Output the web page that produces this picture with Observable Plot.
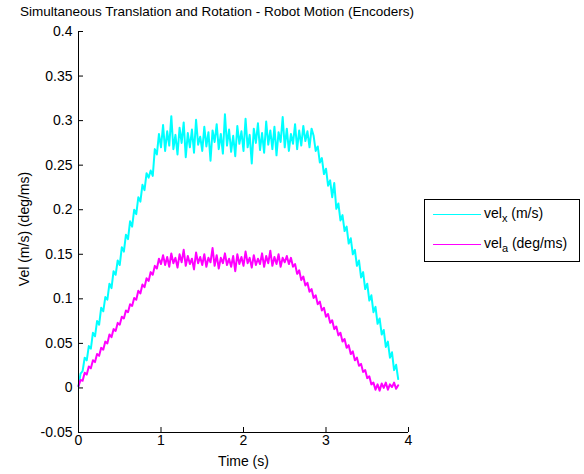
<!DOCTYPE html>
<html>
<head>
<meta charset="utf-8">
<script src="https://cdn.jsdelivr.net/npm/d3@7"></script>
<script src="https://cdn.jsdelivr.net/npm/@observablehq/plot@0.6"></script>
<style>
  body { margin: 0; background: #fff; }
  #wrap { position: relative; width: 584px; height: 474px; font-family: "Liberation Sans", Arial, sans-serif; color: #000; }
  #title { height: 22px; line-height: 24px; font-size: 13.5px; padding-left: 20px; white-space: nowrap; }
  #legend { position: absolute; left: 424px; top: 199px; width: 154px; height: 61px; border: 1px solid #000; background: #fff; font-size: 14px; }
  .lg-line { position: absolute; left: 8px; width: 48px; height: 0; border-top: 1px solid; }
  .lg-text { position: absolute; left: 59px; line-height: 16px; white-space: nowrap; }
  .lg-text sub { font-size: 11px; vertical-align: -4px; line-height: 0; }
</style>
</head>
<body>
<div id="wrap">
  <div id="title">Simultaneous Translation and Rotation - Robot Motion (Encoders)</div>
  <div id="chart"></div>
  <div id="legend">
    <div class="lg-line" style="top:14px;border-color:#00ffff"></div>
    <div class="lg-text" style="top:5px">vel<sub>x</sub> (m/s)</div>
    <div class="lg-line" style="top:44px;border-color:#ff00ff"></div>
    <div class="lg-text" style="top:35px">vel<sub>a</sub> (deg/ms)</div>
  </div>
</div>
<script>
// sample step of the recorded signals (s)
const timeStep = 0.025;

// vel_x (m/s)
const velX = [
  0.002, 0.016, 0.019, 0.034, 0.031, 0.047, 0.044, 0.062, 0.058, 0.075,
  0.071, 0.090, 0.086, 0.102, 0.099, 0.117, 0.112, 0.131, 0.127, 0.143,
  0.138, 0.158, 0.153, 0.172, 0.167, 0.187, 0.181, 0.200, 0.195, 0.214,
  0.209, 0.228, 0.222, 0.241, 0.236, 0.244, 0.238, 0.268, 0.262, 0.285,
  0.270,
  0.295, 0.266, 0.288, 0.272, 0.305, 0.268, 0.284, 0.262, 0.292, 0.275,
  0.298, 0.259, 0.286, 0.270, 0.290, 0.264, 0.301, 0.273, 0.282, 0.266,
  0.293, 0.271, 0.287, 0.255, 0.289, 0.276, 0.296, 0.268, 0.285, 0.263,
  0.307, 0.272, 0.290, 0.265, 0.283, 0.260, 0.294, 0.274, 0.288, 0.266,
  0.302, 0.270, 0.284, 0.252, 0.291, 0.275, 0.297, 0.267, 0.286, 0.264,
  0.299, 0.273, 0.289, 0.268, 0.293, 0.261, 0.287, 0.276, 0.304, 0.270,
  0.291, 0.266, 0.285, 0.274, 0.296, 0.268, 0.289, 0.272, 0.294, 0.277,
  0.288, 0.270, 0.291,
  0.283, 0.266, 0.271, 0.253, 0.258, 0.240, 0.246, 0.227, 0.233, 0.214,
  0.230, 0.201, 0.207, 0.188, 0.194, 0.176, 0.181, 0.162, 0.168, 0.150,
  0.155, 0.137, 0.143, 0.124, 0.130, 0.111, 0.117, 0.098, 0.104, 0.085,
  0.091, 0.072, 0.078, 0.060, 0.065, 0.046, 0.052, 0.034, 0.040, 0.020,
  0.026, 0.010
];

// vel_a (deg/ms)
const velA = [
  0.002, 0.009, 0.008, 0.017, 0.015, 0.024, 0.022, 0.031, 0.029, 0.038,
  0.036, 0.045, 0.043, 0.052, 0.050, 0.060, 0.057, 0.066, 0.064, 0.073,
  0.071, 0.080, 0.078, 0.087, 0.085, 0.094, 0.092, 0.101, 0.099, 0.109,
  0.106, 0.116, 0.113, 0.123, 0.120, 0.130, 0.127, 0.137, 0.134, 0.145,
  0.139,
  0.149, 0.138, 0.147, 0.136, 0.151, 0.140, 0.146, 0.135, 0.150, 0.141,
  0.155, 0.137, 0.148, 0.139, 0.145, 0.133, 0.152, 0.140, 0.147, 0.138,
  0.150, 0.136, 0.146, 0.141, 0.157, 0.137, 0.149, 0.134, 0.146, 0.140,
  0.151, 0.138, 0.145, 0.136, 0.148, 0.131, 0.150, 0.139, 0.147, 0.137,
  0.153, 0.140, 0.146, 0.135, 0.149, 0.138, 0.145, 0.139, 0.151, 0.136,
  0.148, 0.140, 0.154, 0.137, 0.147, 0.139, 0.150, 0.136, 0.146, 0.141,
  0.148, 0.139,
  0.146, 0.136, 0.139, 0.128, 0.132, 0.121, 0.125, 0.115, 0.118, 0.108,
  0.111, 0.101, 0.104, 0.094, 0.097, 0.087, 0.090, 0.080, 0.083, 0.073,
  0.076, 0.066, 0.069, 0.059, 0.062, 0.052, 0.055, 0.045, 0.048, 0.038,
  0.041, 0.031, 0.034, 0.025, 0.027, 0.018, 0.020, 0.011, 0.013, 0.004,
  0.006, -0.002, 0.004, -0.003, 0.005, 0.000, 0.006, -0.002, 0.004, 0.001,
  0.006, -0.001, 0.003
];

const xTicks = [0, 1, 2, 3, 4];
const yTicks = [-0.05, 0, 0.05, 0.1, 0.15, 0.2, 0.25, 0.3, 0.35, 0.4];
const xLabel = "Time (s)";
const yLabel = "Vel (m/s) (deg/ms)";

const seriesX = velX.map((v, i) => ({t: i * timeStep, v}));
const seriesA = velA.map((v, i) => ({t: i * timeStep, v}));

const W = 584, H = 452, mL = 78, mR = 176, mT = 9, mB = 42;
const plotW = W - mL - mR, plotH = H - mT - mB;

const chart = Plot.plot({
  width: W,
  height: H,
  marginLeft: mL,
  marginRight: mR,
  marginTop: mT,
  marginBottom: mB,
  style: {fontFamily: "'Liberation Sans', Arial, sans-serif", fontSize: "14px", background: "white", color: "black"},
  x: {domain: [0, 4], ticks: xTicks, tickSize: 0, tickPadding: 3, tickFormat: d => String(d), label: null},
  y: {domain: [-0.05, 0.4], ticks: yTicks, tickSize: 0, tickPadding: 6, tickFormat: d => String(+d.toFixed(2)), label: null},
  marks: [
    Plot.line(seriesX, {x: "t", y: "v", stroke: "#00ffff", strokeWidth: 2}),
    Plot.line(seriesA, {x: "t", y: "v", stroke: "#ff00ff", strokeWidth: 2}),
    Plot.tickY(yTicks, {y: d => d, stroke: "black", insetRight: plotW - 5}),
    Plot.tickX(xTicks, {x: d => d, stroke: "black", insetTop: plotH - 5}),
    Plot.ruleX([0], {stroke: "black"}),
    Plot.ruleY([-0.05], {stroke: "black"}),
    Plot.text([xLabel], {frameAnchor: "bottom", dy: 29, lineAnchor: "middle", textAnchor: "middle", fontSize: 14, fill: "black"}),
    Plot.text([yLabel], {frameAnchor: "left", dx: -54, dy: -3, rotate: -90, textAnchor: "middle", lineAnchor: "middle", fontSize: 14, fill: "black"})
  ]
});
document.getElementById("chart").appendChild(chart);
</script>
</body>
</html>
